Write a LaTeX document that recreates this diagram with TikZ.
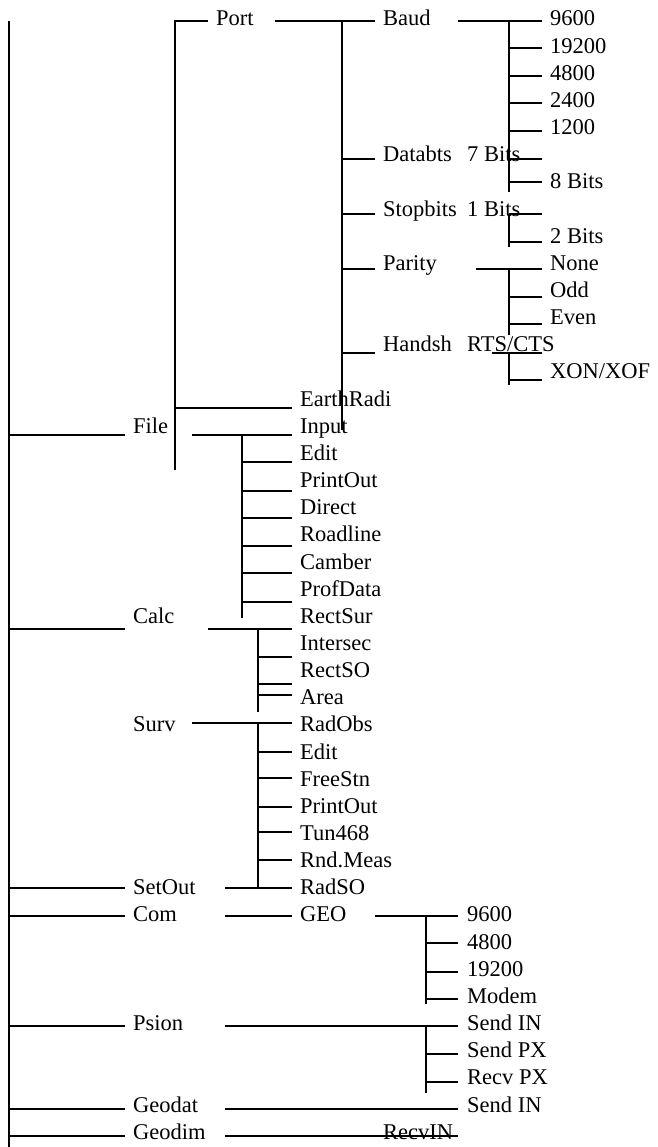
\documentclass[tikz,border=0pt]{standalone}
\usepackage{fontspec}
\setmainfont{Liberation Serif}
\begin{document}
\begin{tikzpicture}[x=1pt,y=-1pt,
  lbl/.style={anchor=base west,inner sep=0pt,font=\fontsize{22.5}{27}\selectfont},
  wire/.style={line width=1.8pt,line cap=butt},
  spine/.style={line width=2.3pt}]
\useasboundingbox (0,0) rectangle (657,1147);
% baseline of text row #1
\newcommand\rowb[1]{26+27.15*#1}

% ---------- labels ----------
\node[lbl] (port) at (216,\rowb{0}) {Port};
\foreach \n/\x/\k/\t in {
  baud/383/0/Baud, databts/383/5/Databts, stopbits/383/7/Stopbits,
  parity/383/9/Parity, handsh/383/12/Handsh,
  bits7/467/5/7 Bits, bits1/467/7/1 Bits,
  b9600/550/0/9600, b19200/550/1/19200, b4800/550/2/4800,
  b2400/550/3/2400, b1200/550/4/1200, bits8/550/6/8 Bits,
  bits2/550/8/2 Bits, none/550/9/None, odd/550/10/Odd, even/550/11/Even,
  earth/300/14/EarthRadi, input/300/15/Input, edita/300/16/Edit,
  printa/300/17/PrintOut, direct/300/18/Direct, roadline/300/19/Roadline,
  camber/300/20/Camber, profdata/300/21/ProfData, rectsur/300/22/RectSur,
  intersec/300/23/Intersec, rectso/300/24/RectSO, area/300/25/Area,
  radobs/300/26/RadObs, editb/300/27/Edit, freestn/300/28/FreeStn,
  printb/300/29/PrintOut, tun/300/30/Tun468, rnd/300/31/Rnd.Meas,
  radso/300/32/RadSO, geo/300/33/GEO,
  file/133/15/File, calc/133/22/Calc, surv/133/26/Surv, setout/133/32/SetOut,
  com/133/33/Com, psion/133/37/Psion, geodat/133/40/Geodat, geodim/133/41/Geodim,
  g9600/467/33/9600, g4800/467/34/4800, g19200/467/35/19200, modem/467/36/Modem,
  sendina/467/37/Send IN, sendpx/467/38/Send PX, recvpx/467/39/Recv PX,
  sendinb/467/40/Send IN, recvin/383/41/RecvIN}
  {\node[lbl] (\n) at (\x,\rowb{\k}) {\t};}
\node[lbl] (rtscts) at (467,\rowb{12}) {RTS/CTS};
\node[lbl] (xonxof) at (550,\rowb{13}) {XON/XOF};

% ---------- main spine ----------
\coordinate (spine-top) at (9,21);
\coordinate (spine-bot) at (9,1147);
\draw[spine] (spine-top) -- (spine-bot);
\foreach \n/\y in {file/435,calc/629,setout/888,com/916,psion/1026,geodat/1109,geodim/1136}
  {\coordinate (\n-l) at (9,\y); \coordinate (\n-r) at (125,\y);
   \draw[wire] (\n-l) -- (\n-r);}

% ---------- Port branch ----------
\coordinate (port-in) at (208,20.7);
\coordinate (portbus-top) at (175,20.7);
\coordinate (portbus-bot) at (175,470);
\draw[wire] (port-in) -- (portbus-top) -- (portbus-bot);
\coordinate (earth-l) at (175,408);
\coordinate (earth-r) at (292,408);
\draw[wire] (earth-l) -- (earth-r);

\coordinate (port-out) at (275,20.7);
\coordinate (baud-in) at (375,20.7);
\coordinate (setbus-top) at (342,20.7);
\coordinate (setbus-bot) at (342,430);
\draw[wire] (port-out) -- (baud-in);
\draw[wire] (setbus-top) -- (setbus-bot);
\foreach \n/\y in {databts/159,stopbits/214,parity/269,handsh/353}
  {\coordinate (\n-tl) at (342,\y); \coordinate (\n-tr) at (375,\y);
   \draw[wire] (\n-tl) -- (\n-tr);}

% Baud values and data bits
\coordinate (baud-out) at (458,20.7);
\coordinate (baudbus-top) at (509,20.7);
\coordinate (baudbus-bot) at (509,192);
\coordinate (b9600-t) at (542,20.7);
\draw[wire] (baud-out) -- (b9600-t);
\draw[wire] (baudbus-top) -- (baudbus-bot);
\foreach \n/\y in {b19200/48,b4800/76,b2400/103,b1200/131,bits7/159,bits8/182}
  {\coordinate (\n-tl) at (509,\y); \coordinate (\n-tr) at (542,\y);
   \draw[wire] (\n-tl) -- (\n-tr);}

% stop bits
\coordinate (stopbus-top) at (509,214);
\coordinate (stopbus-bot) at (509,247);
\coordinate (bits1-tr) at (542,214);
\draw[wire] (stopbus-top) -- (bits1-tr);
\draw[wire] (stopbus-top) -- (stopbus-bot);
\coordinate (bits2-tl) at (509,242); \coordinate (bits2-tr) at (542,242);
\draw[wire] (bits2-tl) -- (bits2-tr);

% parity
\coordinate (parity-out) at (476,269);
\coordinate (none-t) at (542,269);
\coordinate (paritybus-top) at (509,269);
\coordinate (paritybus-bot) at (509,335);
\draw[wire] (parity-out) -- (none-t);
\draw[wire] (paritybus-top) -- (paritybus-bot);
\foreach \n/\y in {odd/297,even/324}
  {\coordinate (\n-tl) at (509,\y); \coordinate (\n-tr) at (542,\y);
   \draw[wire] (\n-tl) -- (\n-tr);}

% handshake
\coordinate (handsh-out) at (492,353);
\coordinate (rtscts-t) at (542,353);
\coordinate (handbus-top) at (509,353);
\coordinate (handbus-bot) at (509,385);
\draw[wire] (handsh-out) -- (rtscts-t);
\draw[wire] (handbus-top) -- (handbus-bot);
\coordinate (xonxof-tl) at (509,380); \coordinate (xonxof-tr) at (542,380);
\draw[wire] (xonxof-tl) -- (xonxof-tr);

% ---------- File branch ----------
\coordinate (file-out) at (192,435);
\coordinate (input-t) at (292,435);
\coordinate (filebus-top) at (242,435);
\coordinate (filebus-bot) at (242,618);
\draw[wire] (file-out) -- (input-t);
\draw[wire] (filebus-top) -- (filebus-bot);
\foreach \n/\y in {edita/462,printa/491,direct/518,roadline/546,camber/573,profdata/602}
  {\coordinate (\n-tl) at (242,\y); \coordinate (\n-tr) at (292,\y);
   \draw[wire] (\n-tl) -- (\n-tr);}

% ---------- Calc branch ----------
\coordinate (calc-out) at (208,629);
\coordinate (rectsur-t) at (292,629);
\coordinate (calcbus-top) at (258,629);
\coordinate (calcbus-bot) at (258,712);
\draw[wire] (calc-out) -- (rectsur-t);
\draw[wire] (calcbus-top) -- (calcbus-bot);
\foreach \n/\y in {intersec/657,rectso/684,area/695}
  {\coordinate (\n-tl) at (258,\y); \coordinate (\n-tr) at (292,\y);
   \draw[wire] (\n-tl) -- (\n-tr);}

% ---------- Surv branch ----------
\coordinate (surv-out) at (192,723);
\coordinate (radobs-t) at (292,723);
\coordinate (survbus-top) at (258,723);
\coordinate (survbus-bot) at (258,888);
\draw[wire] (surv-out) -- (radobs-t);
\draw[wire] (survbus-top) -- (survbus-bot);
\foreach \n/\y in {editb/752,freestn/778,printb/807,tun/832,rnd/860}
  {\coordinate (\n-tl) at (258,\y); \coordinate (\n-tr) at (292,\y);
   \draw[wire] (\n-tl) -- (\n-tr);}

% ---------- SetOut / Com ----------
\coordinate (setout-out) at (225,888);
\coordinate (radso-t) at (292,888);
\draw[wire] (setout-out) -- (radso-t);
\coordinate (com-out) at (225,916);
\coordinate (geo-t) at (292,916);
\draw[wire] (com-out) -- (geo-t);

% GEO baud rates
\coordinate (geo-out) at (375,916);
\coordinate (g9600-t) at (458,916);
\coordinate (geobus-top) at (426,916);
\coordinate (geobus-bot) at (426,1004);
\draw[wire] (geo-out) -- (g9600-t);
\draw[wire] (geobus-top) -- (geobus-bot);
\foreach \n/\y in {g4800/943,g19200/972,modem/999}
  {\coordinate (\n-tl) at (426,\y); \coordinate (\n-tr) at (458,\y);
   \draw[wire] (\n-tl) -- (\n-tr);}

% ---------- Psion ----------
\coordinate (psion-out) at (225,1026);
\coordinate (sendina-t) at (458,1026);
\coordinate (psionbus-top) at (426,1026);
\coordinate (psionbus-bot) at (426,1093);
\draw[wire] (psion-out) -- (sendina-t);
\draw[wire] (psionbus-top) -- (psionbus-bot);
\foreach \n/\y in {sendpx/1054,recvpx/1082}
  {\coordinate (\n-tl) at (426,\y); \coordinate (\n-tr) at (458,\y);
   \draw[wire] (\n-tl) -- (\n-tr);}

% ---------- Geodat / Geodim ----------
\coordinate (geodat-out) at (225,1109);
\coordinate (sendinb-t) at (458,1109);
\draw[wire] (geodat-out) -- (sendinb-t);
\coordinate (geodim-out) at (225,1136);
\coordinate (recvin-t) at (458,1136);
\draw[wire] (geodim-out) -- (recvin-t);
\end{tikzpicture}
\end{document}
